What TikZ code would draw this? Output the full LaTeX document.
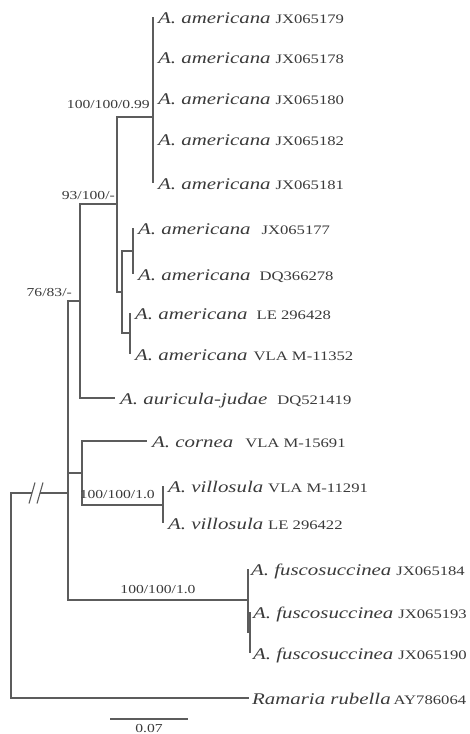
\documentclass[tikz,border=0pt]{standalone}
\usepackage{fontspec}
\setmainfont{Liberation Serif}
\newfontfamily\treefont[FakeStretch=1.28]{Liberation Serif}
\definecolor{TreeLine}{HTML}{5C5C5C}
\definecolor{TreeText}{HTML}{3A3A3A}

% species name in italic, then the accession number upright
\newcommand{\taxon}[3][5pt]{{\fontsize{16.3}{18}\selectfont\itshape #2}\hspace{#1}#3}

\tikzset{
    branch/.style={draw=TreeLine, line width=1.1pt},
    tip/.style={anchor=base west, inner sep=0pt, xshift=5pt, yshift=-6pt,
        text=TreeText, font=\treefont\fontsize{13}{15}\selectfont},
    support/.style={anchor=base east, inner sep=0pt, text=TreeText,
        font=\treefont\fontsize{12.2}{14}\selectfont}
}

\begin{document}
\begin{tikzpicture}[x=1pt, y=-1pt]
    \fill[white] (0,0) rectangle (470,734);
    \useasboundingbox (0,0) rectangle (470,734);

    % ========== Tips ==========
    \coordinate (t1) at (153,17);
    \coordinate (t2) at (153,57);
    \coordinate (t3) at (153,98);
    \coordinate (t4) at (153,139);
    \coordinate (t5) at (153,183);
    \coordinate (t6) at (133,228);
    \coordinate (t7) at (133,274);
    \coordinate (t8) at (130,313);
    \coordinate (t9) at (130,354);
    \coordinate (t10) at (115,398);
    \coordinate (t11) at (147,441);
    \coordinate (t12) at (163,486);
    \coordinate (t13) at (163,523);
    \coordinate (t14) at (248,569);
    \coordinate (t15) at (250,612);
    \coordinate (t16) at (250,653);
    \coordinate (t17) at (249,698);

    % ========== Internal nodes ==========
    \coordinate (a5) at (153,117);
    \coordinate (a67) at (133,251);
    \coordinate (a89) at (130,333);
    \coordinate (a69) at (122,292);
    \coordinate (aam) at (117,204);
    \coordinate (aau) at (80,301);
    \coordinate (cv) at (163,505);
    \coordinate (ccv) at (82,473);
    \coordinate (f23) at (250,632);
    \coordinate (ff) at (248,600);
    \coordinate (ing) at (68,493);
    \coordinate (root) at (11,595);
    \coordinate (brkA) at (32,493);
    \coordinate (brkB) at (40,493);

    % ========== Branches ==========
    \foreach \t in {t1,t2,t3,t4,t5}
        \draw[branch] (a5) |- (\t);
    \draw[branch] (a67) |- (t6);
    \draw[branch] (a67) |- (t7);
    \draw[branch] (a89) |- (t8);
    \draw[branch] (a89) |- (t9);
    \draw[branch] (a69) |- (a67);
    \draw[branch] (a69) |- (a89);
    \draw[branch] (aam) |- (a5);
    \draw[branch] (aam) |- (a69);
    \draw[branch] (aau) |- (aam);
    \draw[branch] (aau) |- (t10);
    \draw[branch] (cv) |- (t12);
    \draw[branch] (cv) |- (t13);
    \draw[branch] (ccv) |- (t11);
    \draw[branch] (ccv) |- (cv);
    \draw[branch] (f23) |- (t15);
    \draw[branch] (f23) |- (t16);
    \draw[branch] (ff) |- (t14);
    \draw[branch] (ff) |- (f23);
    \draw[branch] (ing) |- (aau);
    \draw[branch] (ing) |- (ccv);
    \draw[branch] (ing) |- node[support, anchor=base, pos=0.75, yshift=7pt] (s100c) {100/100/1.0} (ff);
    \draw[branch] (root) |- (t17);

    % broken root branch
    \draw[branch] (root) |- (brkA);
    \draw[branch] (brkB) -- (ing);
    \draw[branch] ([xshift=-3pt, yshift=-10.5pt]brkA) -- ([xshift=3pt, yshift=10.5pt]brkA);
    \draw[branch] ([xshift=-3pt, yshift=-10.5pt]brkB) -- ([xshift=3pt, yshift=10.5pt]brkB);

    % ========== Support values ==========
    \node[support, xshift=-3pt, yshift=8.5pt] (s100a) at (a5) {100/100/0.99};
    \node[support, xshift=-2pt, yshift=5pt] (s93) at (aam) {93/100/-};
    \node[support, xshift=-8pt, yshift=5pt] (s76) at (aau) {76/83/-};
    \node[support, xshift=-8pt, yshift=7pt] (s100b) at (cv) {100/100/1.0};

    % ========== Tip labels ==========
    \node[tip] (l1) at (t1) {\taxon{A. americana}{JX065179}};
    \node[tip] (l2) at (t2) {\taxon{A. americana}{JX065178}};
    \node[tip] (l3) at (t3) {\taxon{A. americana}{JX065180}};
    \node[tip] (l4) at (t4) {\taxon{A. americana}{JX065182}};
    \node[tip] (l5) at (t5) {\taxon{A. americana}{JX065181}};
    \node[tip] (l6) at (t6) {\taxon[11pt]{A. americana}{JX065177}};
    \node[tip] (l7) at (t7) {\taxon[9pt]{A. americana}{DQ366278}};
    \node[tip] (l8) at (t8) {\taxon[9pt]{A. americana}{LE 296428}};
    \node[tip] (l9) at (t9) {\taxon[6pt]{A. americana}{VLA M-11352}};
    \node[tip] (l10) at (t10) {\taxon[10pt]{A. auricula-judae}{DQ521419}};
    \node[tip] (l11) at (t11) {\taxon[12pt]{A. cornea}{VLA M-15691}};
    \node[tip] (l12) at (t12) {\taxon{A. villosula}{VLA M-11291}};
    \node[tip] (l13) at (t13) {\taxon{A. villosula}{LE 296422}};
    \node[tip, xshift=-2pt] (l14) at (t14) {\taxon{A. fuscosuccinea}{JX065184}};
    \node[tip, xshift=-2pt] (l15) at (t15) {\taxon{A. fuscosuccinea}{JX065193}};
    \node[tip, xshift=-2pt] (l16) at (t16) {\taxon{A. fuscosuccinea}{JX065190}};
    \node[tip, xshift=-2pt] (l17) at (t17) {\taxon[3pt]{Ramaria rubella}{AY786064}};

    % ========== Scale bar ==========
    \coordinate (sbL) at (110,719);
    \coordinate (sbR) at (188,719);
    \draw[branch] (sbL) -- node[support, anchor=base, yshift=-13pt] (sb) {0.07} (sbR);

\end{tikzpicture}
\end{document}
